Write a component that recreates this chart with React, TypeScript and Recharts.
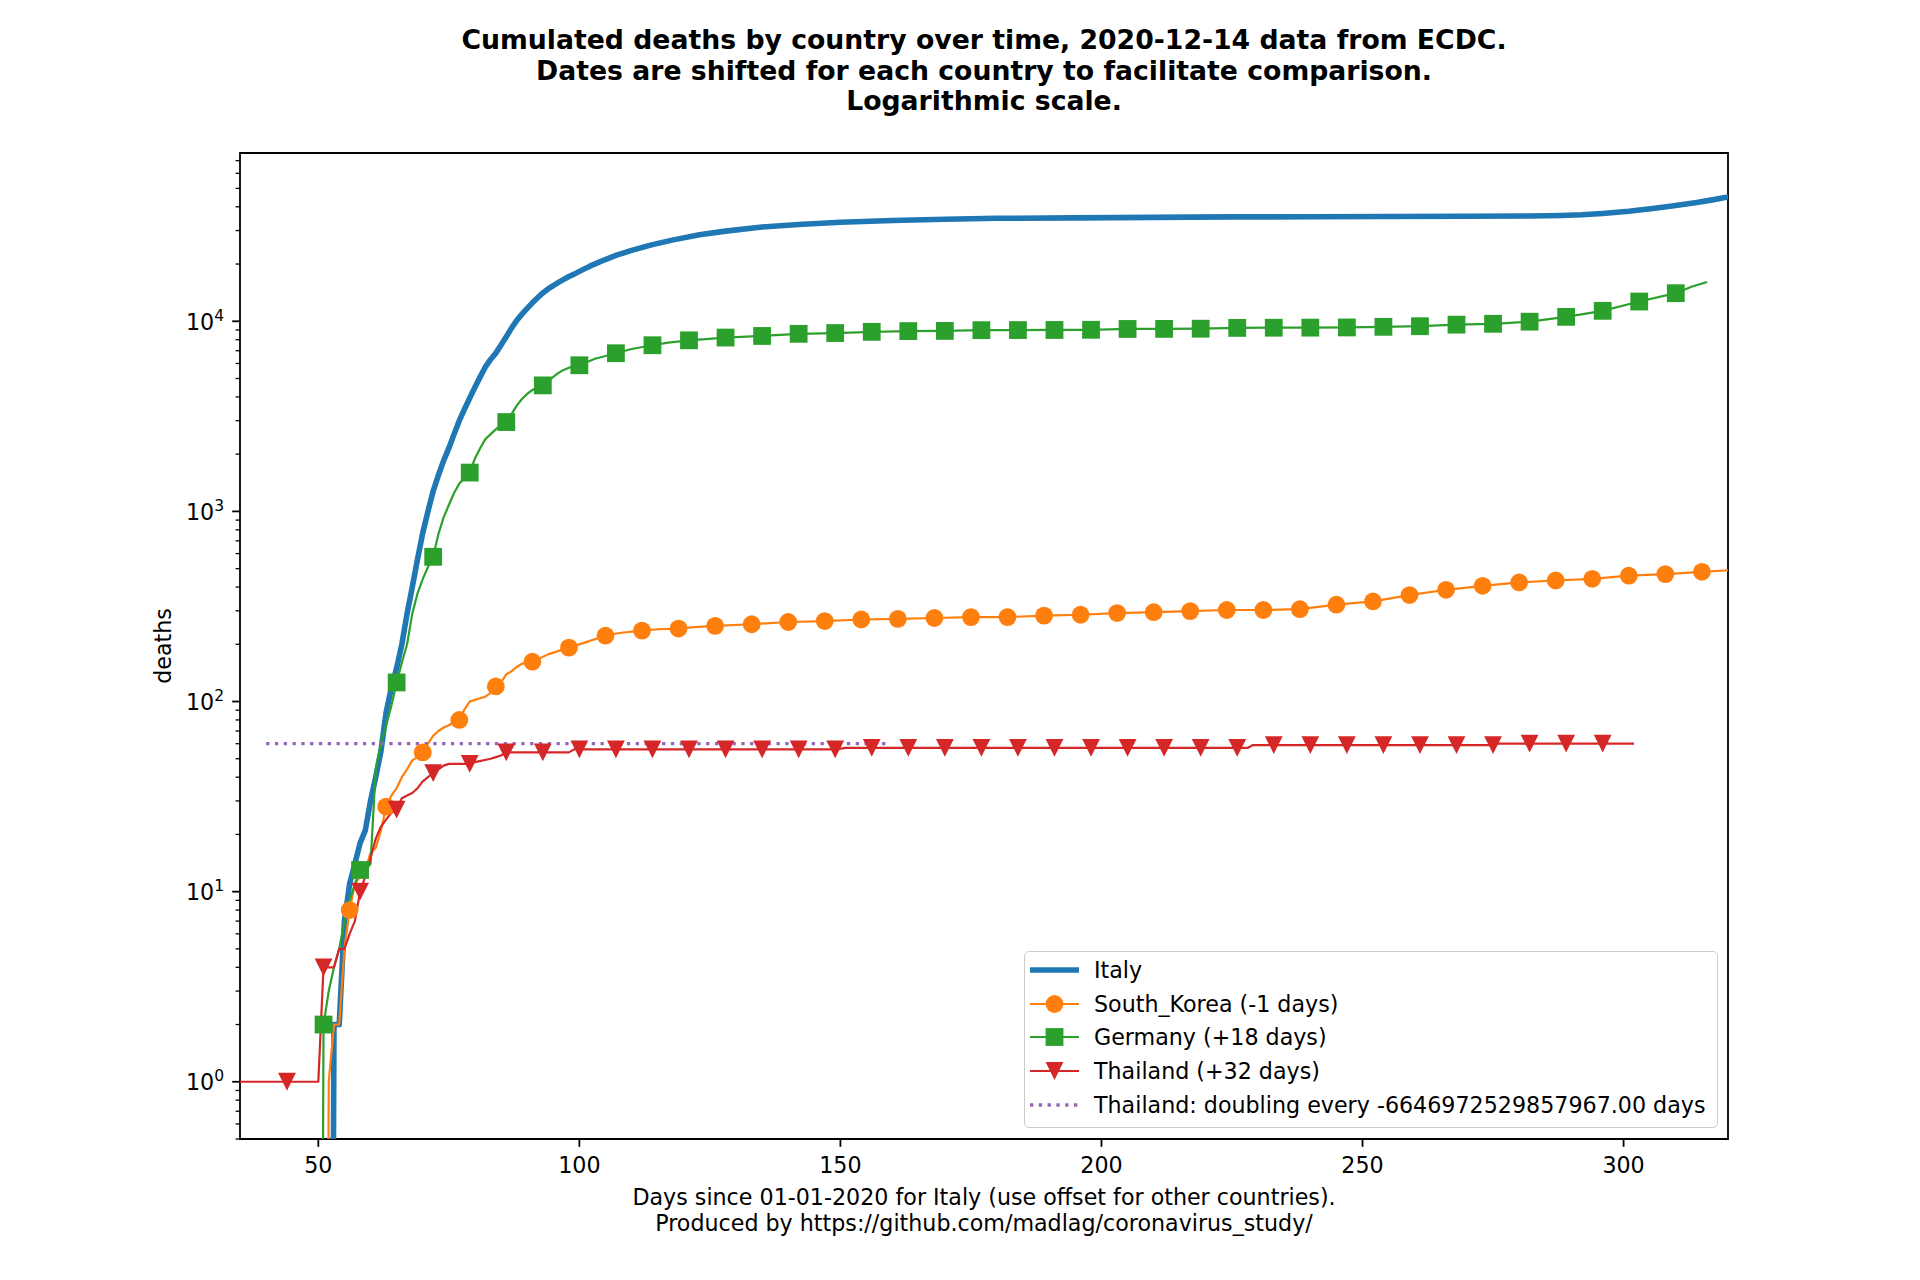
import React from 'react';
import { LineChart, Line, XAxis, YAxis, Legend, ReferenceArea } from 'recharts';

// days since 01-01-2020 (shifted per country) and cumulated deaths
const italyDays = [52, 53, 54, 55, 56, 57, 58, 59, 60, 61, 62, 63, 64, 65, 66, 67, 68, 69, 70, 71, 72, 73, 74, 75, 76, 77, 78, 79, 80, 81, 82, 83, 84, 85, 86, 87, 88, 89, 90, 91, 92, 93, 94, 95, 96, 97, 98, 99, 100, 102, 104, 107, 110, 114, 118, 123, 128, 135, 142, 150, 160, 170, 180, 195, 210, 225, 240, 255, 270, 282, 288, 292, 296, 301, 306, 310, 314, 317, 320, 323];
const italyDeaths = [0, 2, 2, 7, 11, 14, 18, 21, 30, 40, 55, 88, 118, 150, 200, 290, 400, 560, 770, 1000, 1280, 1550, 1850, 2150, 2550, 3000, 3450, 3950, 4500, 5100, 5750, 6300, 6800, 7500, 8300, 9200, 10100, 10900, 11700, 12500, 13300, 14100, 14800, 15400, 16000, 16600, 17200, 17700, 18300, 19500, 20600, 22200, 23600, 25300, 26800, 28500, 29800, 31300, 32300, 33200, 33900, 34400, 34800, 35000, 35200, 35400, 35450, 35550, 35650, 35800, 36000, 36300, 36900, 37900, 39300, 40600, 42100, 43500, 45100, 46700];

const koreaDays = [51, 52, 53, 54, 55, 56, 57, 58, 59, 60, 61, 62, 63, 64, 65, 66, 67, 68, 69, 70, 71, 72, 73, 74, 75, 76, 77, 78, 79, 80, 81, 82, 83, 84, 85, 86, 87, 88, 89, 90, 91, 94, 98, 101, 105, 108, 112, 115, 119, 122, 126, 133, 140, 147, 154, 161, 168, 175, 182, 189, 196, 203, 210, 217, 224, 231, 238, 245, 252, 259, 266, 273, 280, 287, 294, 301, 308, 315, 322];
const koreaDeaths = [0, 1, 2, 2, 5, 8, 11, 12, 13, 16, 17, 21, 28, 32, 35, 40, 44, 49, 51, 54, 60, 66, 70, 73, 75, 78, 80, 91, 100, 102, 104, 106, 111, 120, 126, 139, 144, 152, 158, 161, 162, 177, 192, 204, 222, 230, 236, 240, 242, 246, 250, 255, 262, 265, 270, 272, 275, 278, 278, 283, 286, 292, 295, 299, 303, 303, 306, 323, 336, 363, 387, 406, 423, 433, 442, 459, 468, 481, 494];

const germanyDays = [50, 51, 52, 53, 54, 55, 56, 57, 58, 59, 60, 61, 62, 63, 64, 65, 66, 67, 68, 69, 70, 71, 72, 73, 74, 75, 76, 77, 78, 79, 80, 81, 82, 83, 84, 85, 86, 87, 88, 89, 90, 91, 92, 93, 94, 95, 96, 97, 98, 99, 100, 103, 107, 110, 114, 117, 121, 128, 135, 142, 149, 156, 163, 170, 177, 184, 191, 198, 205, 212, 219, 226, 233, 240, 247, 254, 261, 268, 275, 282, 289, 296, 303, 310, 313, 316];
const germanyDeaths = [0, 2, 3, 4, 5, 7, 9, 11, 13, 13, 14, 44, 60, 75, 95, 126, 160, 200, 290, 370, 440, 510, 577, 760, 930, 1080, 1250, 1400, 1500, 1600, 1900, 2150, 2400, 2550, 2700, 2850, 2950, 3250, 3600, 3900, 4150, 4350, 4500, 4600, 4850, 5100, 5350, 5550, 5700, 5800, 5870, 6350, 6790, 7150, 7480, 7720, 7940, 8210, 8370, 8590, 8670, 8800, 8880, 8900, 8980, 8990, 9000, 9020, 9110, 9120, 9140, 9230, 9250, 9260, 9280, 9350, 9420, 9600, 9700, 9950, 10550, 11350, 12700, 14050, 15200, 16100];

const thailandDays = [33, 44, 50, 51, 52, 53, 54, 55, 56, 57, 58, 59, 60, 61, 62, 63, 64, 65, 66, 67, 68, 69, 70, 71, 72, 73, 74, 75, 79, 80, 83, 84, 85, 86, 93, 98, 99, 100, 107, 114, 121, 128, 135, 142, 149, 151, 156, 163, 170, 177, 184, 191, 198, 205, 212, 219, 226, 228, 229, 233, 240, 247, 254, 261, 268, 275, 276, 282, 289, 296, 302];
const thailandDeaths = [1, 1, 1, 4, 4, 4, 5, 5, 6, 7, 10, 12, 15, 19, 22, 24, 26, 27, 31, 32, 33, 35, 38, 40, 42, 44, 46, 47, 47, 48, 50, 51, 52, 54, 54, 54, 56, 56, 56, 56, 56, 56, 56, 56, 56, 57, 57, 57, 57, 57, 57, 57, 57, 57, 57, 57, 57, 57, 59, 59, 59, 59, 59, 59, 59, 59, 60, 60, 60, 60, 60];

const doublingDays = [40, 159];
const doublingDeaths = [60, 60];

const xTicks = [50, 100, 150, 200, 250, 300];
const yMajorTicks = [1, 10, 100, 1000, 10000];
const yMinorTicks = [0.5, 0.6, 0.7, 0.8, 0.9, 2, 3, 4, 5, 6, 7, 8, 9, 20, 30, 40, 50, 60, 70, 80, 90, 200, 300, 400, 500, 600, 700, 800, 900, 2000, 3000, 4000, 5000, 6000, 7000, 8000, 9000, 20000, 30000, 40000, 50000, 60000, 70000];

const titleLines = [
  'Cumulated deaths by country over time, 2020-12-14 data from ECDC.',
  'Dates are shifted for each country to facilitate comparison.',
  'Logarithmic scale.',
];
const xLabelLines = [
  'Days since 01-01-2020 for Italy (use offset for other countries).',
  'Produced by https://github.com/madlag/coronavirus_study/',
];

const FONT = '"DejaVu Sans", Verdana, sans-serif';
const PLOT_LEFT = 240;
const PLOT_RIGHT = 1728;
const PLOT_TOP = 153;
const PLOT_BOTTOM = 1139;
const X_DOMAIN: [number, number] = [35, 320];
const Y_DOMAIN: [number, number] = [0.5, 76750];
const MARKER = 17.8;

// log axis cannot take 0: push zeros far below the axis, like matplotlib's clipping
const toSeries = (days: number[], deaths: number[]) =>
  days.map((day, i) => ({ day, deaths: deaths[i] > 0 ? deaths[i] : 1e-6 }));

const series = [
  { name: 'Italy', data: toSeries(italyDays, italyDeaths), color: '#1f77b4', width: 5.6, shape: null, phase: 0 },
  { name: 'South_Korea (-1 days)', data: toSeries(koreaDays, koreaDeaths), color: '#ff7f0e', width: 2.2, shape: 'circle', phase: 0 },
  { name: 'Germany (+18 days)', data: toSeries(germanyDays, germanyDeaths), color: '#2ca02c', width: 2.2, shape: 'square', phase: 2 },
  { name: 'Thailand (+32 days)', data: toSeries(thailandDays, thailandDeaths), color: '#d62728', width: 2.2, shape: 'triangle', phase: 2 },
];
const doubling = {
  name: 'Thailand: doubling every -6646972529857967.00 days',
  data: toSeries(doublingDays, doublingDeaths),
  color: '#9467bd',
};

const Marker = ({ shape, x, y, color }: { shape: string; x: number; y: number; color: string }) => {
  const h = MARKER / 2;
  if (shape === 'circle') return <circle cx={x} cy={y} r={h} fill={color} />;
  if (shape === 'square') return <rect x={x - h} y={y - h} width={MARKER} height={MARKER} fill={color} />;
  return <polygon points={`${x - h},${y - h} ${x + h},${y - h} ${x},${y + h}`} fill={color} />;
};

// markers every 7th day, like markevery
const markerDot = (shape: string, color: string, phase: number) => (props: any) => {
  const { cx, cy, payload, index } = props;
  const key = `dot-${index}`;
  if (cx == null || cy == null || payload.day % 7 !== phase || payload.day < X_DOMAIN[0] || payload.day > X_DOMAIN[1]) {
    return <g key={key} />;
  }
  return (
    <g key={key}>
      <Marker shape={shape} x={cx} y={cy} color={color} />
    </g>
  );
};

const XTick = (props: any) => {
  const { x, payload } = props;
  return (
    <g>
      <line x1={x} x2={x} y1={PLOT_BOTTOM} y2={PLOT_BOTTOM + 7.8} stroke="#000" strokeWidth={1.8} />
      <text x={x} y={PLOT_BOTTOM + 34.3} textAnchor="middle" fontSize={22.2} fontFamily={FONT} fill="#000">
        {payload.value}
      </text>
    </g>
  );
};

const YTick = (props: any) => {
  const { y, payload } = props;
  const v = payload.value;
  const major = yMajorTicks.includes(v);
  return (
    <g>
      <line
        x1={PLOT_LEFT - (major ? 7.8 : 4.4)}
        x2={PLOT_LEFT}
        y1={y}
        y2={y}
        stroke="#000"
        strokeWidth={major ? 1.8 : 1.3}
      />
      {major && (
        <text x={224} y={y + 8.6} textAnchor="end" fontSize={22.2} fontFamily={FONT} fill="#000">
          10
          <tspan dy={-9} fontSize={15.5}>
            {Math.round(Math.log10(v))}
          </tspan>
        </text>
      )}
    </g>
  );
};

const LegendHandle = ({ color, width, shape, dashed }: any) => (
  <svg width={50} height={30} style={{ display: 'block' }}>
    <line
      x1={0}
      x2={49}
      y1={15}
      y2={15}
      stroke={color}
      strokeWidth={width}
      strokeDasharray={dashed ? '3.3 5.5' : undefined}
    />
    {shape && <Marker shape={shape} x={24.5} y={15} color={color} />}
  </svg>
);

const LegendBox = () => {
  const rows = [
    ...series.map((s) => ({ name: s.name, color: s.color, width: s.width, shape: s.shape, dashed: false })),
    { name: doubling.name, color: doubling.color, width: 3.3, shape: null, dashed: true },
  ];
  return (
    <div
      style={{
        boxSizing: 'border-box',
        width: 694,
        height: 177,
        border: '1.8px solid #cccccc',
        borderRadius: 5,
        background: 'rgba(255,255,255,0.8)',
        paddingTop: 1,
        fontFamily: FONT,
        fontSize: 22.2,
        color: '#000',
      }}
    >
      {rows.map((r) => (
        <div key={r.name} style={{ display: 'flex', alignItems: 'center', height: 33.75 }}>
          <div style={{ marginLeft: 5, width: 64 }}>
            <LegendHandle color={r.color} width={r.width} shape={r.shape} dashed={r.dashed} />
          </div>
          <span style={{ whiteSpace: 'nowrap' }}>{r.name}</span>
        </div>
      ))}
    </div>
  );
};

export default function App() {
  return (
    <div style={{ position: 'absolute', left: 0, top: 0, width: 1920, height: 1280, background: '#fff' }}>
      <div
        style={{
          position: 'absolute',
          left: 0,
          top: 25,
          width: PLOT_LEFT + PLOT_RIGHT,
          textAlign: 'center',
          fontFamily: FONT,
          fontWeight: 'bold',
          fontSize: 26.7,
          lineHeight: '30.7px',
          color: '#000',
        }}
      >
        {titleLines.map((t) => (
          <div key={t}>{t}</div>
        ))}
      </div>
      <LineChart width={1920} height={1280} margin={{ top: PLOT_TOP, right: 1920 - PLOT_RIGHT, bottom: 81, left: 180 }}>
        <XAxis
          dataKey="day"
          type="number"
          domain={X_DOMAIN}
          allowDataOverflow
          ticks={xTicks}
          interval={0}
          height={60}
          axisLine={false}
          tickLine={false}
          tick={<XTick />}
        />
        <YAxis
          type="number"
          scale="log"
          domain={Y_DOMAIN}
          allowDataOverflow
          ticks={[...yMinorTicks, ...yMajorTicks].sort((a, b) => a - b)}
          interval={0}
          width={60}
          axisLine={false}
          tickLine={false}
          tick={<YTick />}
        />
        {series.map((s) => (
          <Line
            key={s.name}
            data={s.data}
            dataKey="deaths"
            name={s.name}
            type="linear"
            stroke={s.color}
            strokeWidth={s.width}
            strokeLinejoin="round"
            dot={s.shape ? markerDot(s.shape, s.color, s.phase) : false}
            activeDot={false}
            isAnimationActive={false}
          />
        ))}
        <Line
          data={doubling.data}
          dataKey="deaths"
          name={doubling.name}
          type="linear"
          stroke={doubling.color}
          strokeWidth={3.3}
          strokeDasharray="3.3 5.5"
          dot={false}
          activeDot={false}
          isAnimationActive={false}
        />
        <ReferenceArea
          x1={X_DOMAIN[0]}
          x2={X_DOMAIN[1]}
          y1={Y_DOMAIN[0]}
          y2={Y_DOMAIN[1]}
          fill="none"
          fillOpacity={0}
          stroke="#000"
          strokeWidth={1.8}
          ifOverflow="visible"
        />
        <Legend
          layout="horizontal"
          verticalAlign="middle"
          align="center"
          wrapperStyle={{ left: 1024, top: 951, width: 694, height: 177 }}
          content={() => <LegendBox />}
        />
      </LineChart>
      <div
        style={{
          position: 'absolute',
          left: 163,
          top: 646,
          transform: 'translate(-50%, -50%) rotate(-90deg)',
          fontFamily: FONT,
          fontSize: 22.2,
          color: '#000',
          whiteSpace: 'nowrap',
        }}
      >
        deaths
      </div>
      <div
        style={{
          position: 'absolute',
          left: 0,
          top: 1184,
          width: PLOT_LEFT + PLOT_RIGHT,
          textAlign: 'center',
          fontFamily: FONT,
          fontSize: 22.2,
          lineHeight: '26px',
          color: '#000',
        }}
      >
        {xLabelLines.map((t) => (
          <div key={t}>{t}</div>
        ))}
      </div>
    </div>
  );
}
